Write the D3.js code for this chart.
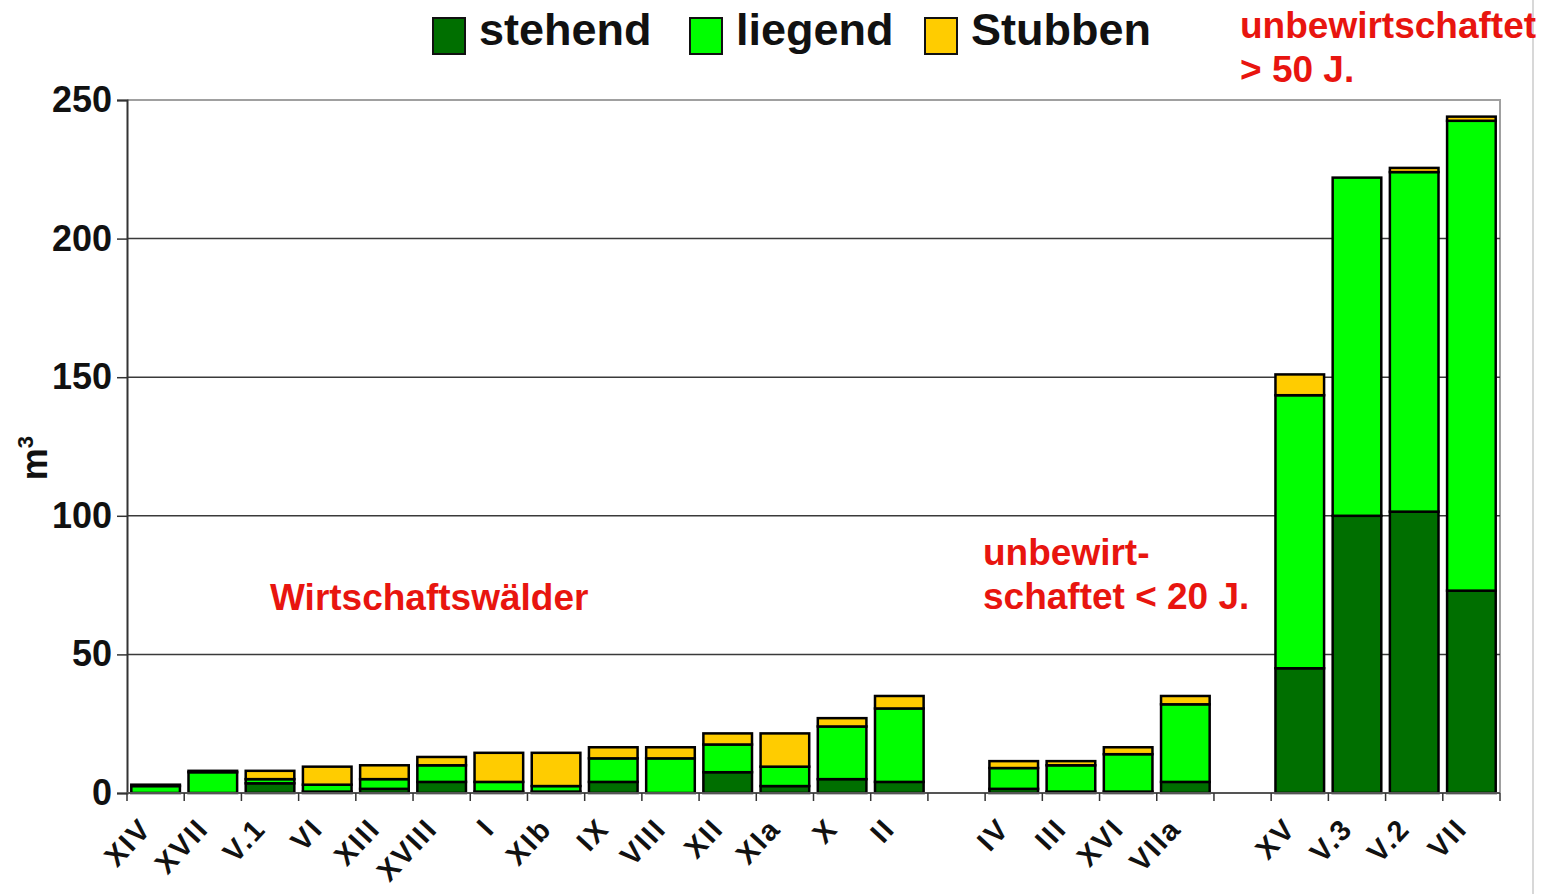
<!DOCTYPE html>
<html>
<head>
<meta charset="utf-8">
<script src="https://cdn.jsdelivr.net/npm/d3@7"></script>
<style>
  body { margin: 0; background: #fff; }
  text { font-family: "Liberation Sans", Arial, sans-serif; font-weight: bold; }
</style>
</head>
<body>
<div id="chart"></div>
<script>
// Slots along the x axis; null marks an empty gap between groups
const categories = ["XIV", "XVII", "V.1", "VI", "XIII", "XVIII", "I", "XIb", "IX", "VIII", "XII", "XIa", "X", "II",
  null, "IV", "III", "XVI", "VIIa", null, "XV", "V.3", "V.2", "VII"];
const stehend = [0, 0, 3.5, 0.5, 1.5, 4, 0.5, 0.5, 4, 0, 7.5, 2.5, 5, 4,
  0, 1.5, 0.5, 0.5, 4, 0, 45, 100, 101.5, 73];
const liegend = [2.5, 7.5, 1.5, 2.5, 3.5, 6, 3.5, 2, 8.5, 12.5, 10, 7, 19, 26.5,
  0, 7.5, 9.5, 13.5, 28, 0, 98.5, 122, 122.5, 169.5];
const stubben = [0.5, 0.5, 3, 6.5, 5, 3, 10.5, 12, 4, 4, 4, 12, 3, 4.5,
  0, 2.5, 1.5, 2.5, 3, 0, 7.5, 0, 1.5, 1.5];
const seriesNames = ["stehend", "liegend", "Stubben"];
const yTicks = [0, 50, 100, 150, 200, 250];

const colors = { stehend: "#006f00", liegend: "#00ff00", Stubben: "#ffcc00" };

const width = 1550, height = 894;
const margin = { top: 100, right: 50, bottom: 101, left: 127 };
const innerW = width - margin.left - margin.right;
const innerH = height - margin.top - margin.bottom;

const svg = d3.select("#chart").append("svg")
  .attr("width", width)
  .attr("height", height);

// Table for the stack layout
const rows = categories.map((c, i) => ({
  key: i,
  label: c,
  stehend: stehend[i],
  liegend: liegend[i],
  Stubben: stubben[i]
}));

const x = d3.scaleBand()
  .domain(rows.map(d => d.key))
  .range([0, innerW])
  .paddingInner(0.15)
  .paddingOuter(0.075);

const y = d3.scaleLinear()
  .domain([0, 250])
  .range([innerH, 0]);

const g = svg.append("g")
  .attr("transform", `translate(${margin.left},${margin.top})`);

// outer frame line at the right edge of the chart area
svg.append("line")
  .attr("x1", 1533).attr("x2", 1533)
  .attr("y1", 0).attr("y2", height)
  .attr("stroke", "#d8d8d8").attr("stroke-width", 2);

// plot frame (top + right)
g.append("path")
  .attr("d", `M0,0H${innerW}V${innerH}`)
  .attr("fill", "none")
  .attr("stroke", "#a0a0a0")
  .attr("stroke-width", 2);

// gridlines
g.append("g")
  .selectAll("line")
  .data(yTicks.filter(t => t > 0 && t < 250))
  .join("line")
  .attr("x1", 0).attr("x2", innerW)
  .attr("y1", d => y(d)).attr("y2", d => y(d))
  .attr("stroke", "#3a3a3a")
  .attr("stroke-width", 1.5);

// stacked bars
const stack = d3.stack().keys(seriesNames);
const layers = stack(rows.filter(d => d.label !== null));

g.append("g")
  .selectAll("g")
  .data(layers)
  .join("g")
  .attr("fill", d => colors[d.key])
  .selectAll("rect")
  .data(d => d.filter(s => s[1] - s[0] > 0))
  .join("rect")
  .attr("x", d => x(d.data.key))
  .attr("width", x.bandwidth())
  .attr("y", d => y(d[1]))
  .attr("height", d => y(d[0]) - y(d[1]))
  .attr("stroke", "#000")
  .attr("stroke-width", 2.5);

// y axis
const yAxis = g.append("g")
  .call(d3.axisLeft(y).tickValues(yTicks).tickSize(10).tickPadding(5));
yAxis.select(".domain").attr("stroke", "#333").attr("stroke-width", 2);
yAxis.selectAll(".tick line").attr("stroke", "#333").attr("stroke-width", 1.5);
yAxis.selectAll(".tick text")
  .attr("fill", "#111")
  .style("font-size", "36px")
  .style("font-weight", "bold")
  .style("font-family", "'Liberation Sans', Arial, sans-serif");

// x axis line and ticks at slot boundaries
g.append("line")
  .attr("x1", 0).attr("x2", innerW)
  .attr("y1", innerH).attr("y2", innerH)
  .attr("stroke", "#555").attr("stroke-width", 2);

const step = x.step();
g.append("g")
  .selectAll("line")
  .data(d3.range(categories.length + 1))
  .join("line")
  .attr("x1", i => x(i) !== undefined ? x(i) - (step - x.bandwidth()) / 2 : innerW)
  .attr("x2", i => x(i) !== undefined ? x(i) - (step - x.bandwidth()) / 2 : innerW)
  .attr("y1", innerH).attr("y2", innerH + 8)
  .attr("stroke", "#333").attr("stroke-width", 1.5);

// rotated category labels
g.append("g")
  .selectAll("text")
  .data(rows.filter(d => d.label !== null))
  .join("text")
  .attr("text-anchor", "end")
  .attr("transform", d => `translate(${x(d.key) + x.bandwidth() / 2 - 10},${innerH + 30}) rotate(-47)`)
  .attr("dy", "0.35em")
  .style("font-size", "29px")
  .style("letter-spacing", "2px")
  .attr("fill", "#111")
  .text(d => d.label);

// y axis title
svg.append("text")
  .attr("transform", "translate(47,458) rotate(-90)")
  .attr("text-anchor", "middle")
  .style("font-size", "36px")
  .attr("fill", "#111")
  .html("m<tspan dy='-14' style='font-size:22px'>3</tspan>");

// legend
const legendItems = [
  { name: "stehend", x: 433 },
  { name: "liegend", x: 690 },
  { name: "Stubben", x: 925 }
];
const legend = svg.append("g").selectAll("g")
  .data(legendItems)
  .join("g")
  .attr("transform", d => `translate(${d.x},18)`);
legend.append("rect")
  .attr("width", 32).attr("height", 36)
  .attr("fill", d => colors[d.name])
  .attr("stroke", "#111").attr("stroke-width", 2);
legend.append("text")
  .attr("x", 46).attr("y", 27)
  .style("font-size", "45px")
  .attr("fill", "#111")
  .text(d => d.name);

// group annotations
const red = "#e8150f";
const notes = [
  { lines: ["Wirtschaftswälder"], x: 270, y: 610 },
  { lines: ["unbewirt-", "schaftet < 20 J."], x: 983, y: 565 },
  { lines: ["unbewirtschaftet", "> 50 J."], x: 1240, y: 38 }
];
svg.append("g").selectAll("text")
  .data(notes)
  .join("text")
  .attr("x", d => d.x).attr("y", d => d.y)
  .attr("fill", red)
  .style("font-size", "37px")
  .selectAll("tspan")
  .data(d => d.lines.map((l, i) => ({ l, i, x: d.x })))
  .join("tspan")
  .attr("x", d => d.x)
  .attr("dy", d => d.i === 0 ? 0 : 44)
  .text(d => d.l);
</script>
</body>
</html>
